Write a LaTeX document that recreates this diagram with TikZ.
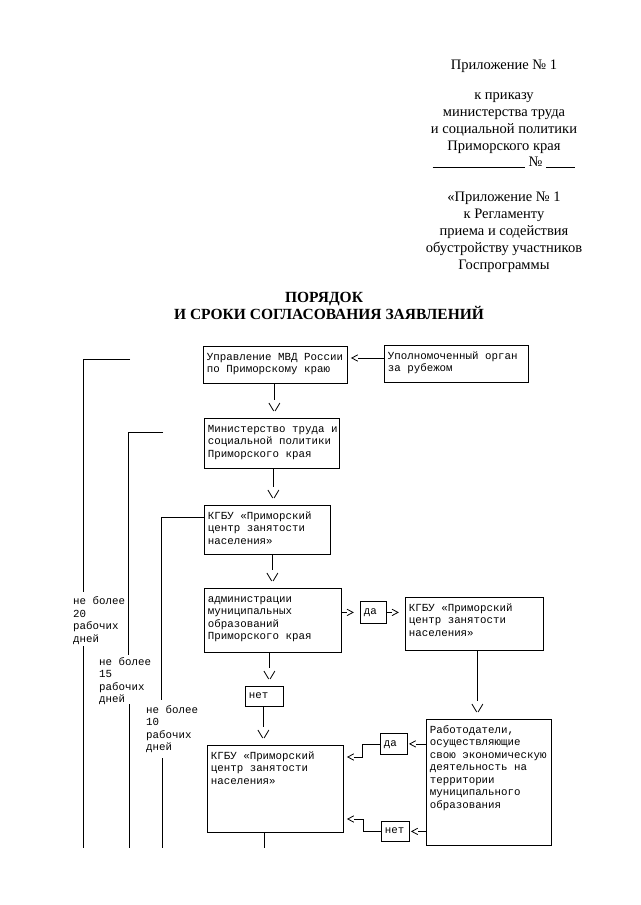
\documentclass[tikz,border=0pt]{standalone}
\usepackage{fontspec}
\setmainfont{Liberation Serif}
\newfontfamily\monofam{Liberation Mono}
\newcommand\monof{\monofam\fontsize{10.8}{12.5}\selectfont}
\newcommand\bxt[3]{\parbox[c][#2pt][t]{#1pt}{\raggedright\leftskip=3.5pt\monof\vspace*{5pt}\strut#3}}
\newcommand\bxc[3]{\parbox[c][#2pt][c]{#1pt}{\raggedright\leftskip=3.5pt\monof\strut#3}}
\usetikzlibrary{calc}
\tikzset{
  box/.style={draw, line width=0.8pt, inner sep=0pt, anchor=north west},
  ln/.style={line width=0.8pt},
  hdr/.style={anchor=base, inner sep=0pt, font=\fontsize{14.5}{17}\selectfont},
  ttl/.style={anchor=base, inner sep=0pt, font=\bfseries\fontsize{15.5}{17}\selectfont},
  brk/.style={anchor=north west, inner sep=0pt, align=left, font=\monof},
  pics/ltip/.style={code={\draw[ln] (6,-3.2) -- (0,0) -- (6,3.2);}},
  pics/rtip/.style={code={\draw[ln] (-6,-3.2) -- (0,0) -- (-6,3.2);}},
  pics/dtip/.style={code={\draw[ln] (-5.5,-8) -- (-0.7,0) (0.7,0) -- (5.5,-8);}},
}
\newcommand\vconn[3]{%
  \coordinate (vA) at ([xshift=#3]#1.south);
  \coordinate (vB) at (vA |- #2.north);
  \draw[ln, shorten >=18pt] (vA) -- (vB);
  \pic at ($(vB)+(0,-7)$) {dtip};}
\begin{document}
\begin{tikzpicture}[x=1pt,y=-1pt]
\useasboundingbox (0,0) rectangle (640,905);
\fill[white] (0,0) rectangle (640,905);

% header
\node[hdr] (h1) at (504,69.5) {Приложение № 1};
\node[hdr] (h2) at (504,99) {к приказу};
\node[hdr] (h3) at (504,116) {министерства труда};
\node[hdr] (h4) at (504,133.5) {и социальной политики};
\node[hdr] (h5) at (504,150) {Приморского края};
\node[hdr] (h6) at (504,166) {\rule[-2pt]{92pt}{0.7pt}\hspace{4pt}№\hspace{4pt}\rule[-2pt]{29pt}{0.7pt}};
\node[hdr] (h7) at (504,201.5) {«Приложение № 1};
\node[hdr] (h8) at (504,218.5) {к Регламенту};
\node[hdr] (h9) at (504,235.5) {приема и содействия};
\node[hdr] (h10) at (504,252.5) {обустройству участников};
\node[hdr] (h11) at (504,269.5) {Госпрограммы};

% title
\node[ttl] (t1) at (324,302) {ПОРЯДОК};
\node[ttl] (t2) at (329,319) {И СРОКИ СОГЛАСОВАНИЯ ЗАЯВЛЕНИЙ};

% boxes
\node[box] (b1) at (203,346) {\bxt{144}{37}{Управление МВД России\\по Приморскому краю}};
\node[box] (b2) at (384,345) {\bxt{144}{37}{Уполномоченный орган\\за рубежом}};
\node[box] (b3) at (204,418) {\bxt{135}{50}{Министерство труда и\\социальной политики\\Приморского края}};
\node[box] (b4) at (204,505) {\bxt{126}{49}{КГБУ «Приморский\\центр занятости\\населения»}};
\node[box] (b5) at (204,588) {\bxt{137}{64}{администрации\\муниципальных\\образований\\Приморского края}};
\node[box] (da1) at (360,601) {\bxc{26}{22}{да}};
\node[box] (b6) at (405,597) {\bxt{138}{53}{КГБУ «Приморский\\центр занятости\\населения»}};
\node[box] (net1) at (245,686) {\bxc{38}{20}{нет}};
\node[box] (b7) at (426,719) {\bxt{125}{126}{Работодатели,\\осуществляющие\\свою экономическую\\деятельность на\\территории\\муниципального\\образования}};
\node[box] (da2) at (380,733) {\bxc{27}{21}{да}};
\node[box] (net2) at (381,821) {\bxc{28}{20}{нет}};
\node[box] (b8) at (207,745) {\bxt{136}{87}{КГБУ «Приморский\\центр занятости\\населения»}};

% vertical connectors
\vconn{b1}{b3}{-1pt}
\vconn{b3}{b4}{1.5pt}
\vconn{b4}{b5}{5pt}
\vconn{b5}{net1}{-3.5pt}
\vconn{net1}{b8}{-1pt}
\vconn{b6}{b7}{3pt}
\coordinate (end8) at (264,848);
\draw[ln] (b8.south -| end8) -- (end8);

% horizontal connectors
\coordinate (k0) at (0,358);
\draw[ln, shorten >=10pt] (b2.west |- k0) -- (b1.east |- k0);
\pic at ($(b1.east |- k0)+(4,0)$) {ltip};

\draw[ln, shorten >=13pt] (b5.east |- da1.west) -- (da1.west);
\pic at ($(da1.west)+(-7,0)$) {rtip};
\draw[ln, shorten >=13pt] (da1.east) -- (da1.east -| b6.west);
\pic at ($(da1.east -| b6.west)+(-7,0)$) {rtip};

\draw[ln, shorten >=8pt] (b7.west |- da2.east) -- (da2.east);
\pic at ($(da2.east)+(2,0)$) {ltip};
\draw[ln, shorten >=8pt] (b7.west |- net2.east) -- (net2.east);
\pic at ($(net2.east)+(2,0)$) {ltip};

\coordinate (k1) at (362,757);
\draw[ln, shorten >=10pt] (da2.west) -| (k1) -- (k1 -| b8.east);
\pic at ($(k1 -| b8.east)+(4,0)$) {ltip};
\coordinate (k2) at (363,819);
\draw[ln, shorten >=10pt] (net2.west) -| (k2) -- (k2 -| b8.east);
\pic at ($(k2 -| b8.east)+(4,0)$) {ltip};

% left brackets
\node[brk] (tA) at (73,596.5) {не более\\20\\рабочих\\дней};
\node[brk] (tB) at (99,657) {не более\\15\\рабочих\\дней};
\node[brk] (tC) at (146,705) {не более\\10\\рабочих\\дней};
\draw[ln] (130,359) -- (83,359) -- (83,592);
\draw[ln] (83,646) -- (83,848);
\draw[ln] (163,432) -- (128,432) -- (128,655);
\draw[ln] (129,704) -- (129,848);
\coordinate (c3) at (161,517);
\draw[ln] (b4.west |- c3) -- (c3) -- (161,700);
\draw[ln] (162,758) -- (162,848);
\end{tikzpicture}
\end{document}
